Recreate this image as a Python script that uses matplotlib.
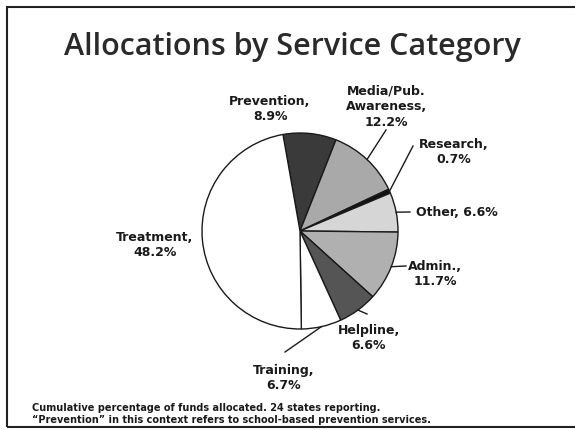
import numpy as np
import matplotlib
matplotlib.use("Agg")
import matplotlib.pyplot as plt
from matplotlib.patches import Rectangle

W, H = 575, 430

categories = ["Prevention", "Media/Pub.\nAwareness", "Research", "Other", "Admin.",
              "Helpline", "Training", "Treatment"]
values = [8.9, 12.2, 0.7, 6.6, 11.7, 6.6, 6.7, 48.2]
colors = ["#3a3a3a", "#a9a9a9", "#111111", "#d6d6d6", "#b0b0b0", "#555555",
          "#ffffff", "#ffffff"]

# label text, label centre (px), leader end (px) or None
label_text = ["Prevention,\n8.9%", "Media/Pub.\nAwareness,\n12.2%", "Research,\n0.7%",
              "Other, 6.6%", "Admin.,\n11.7%", "Helpline,\n6.6%", "Training,\n6.7%",
              "Treatment,\n48.2%"]
label_pos = [(270, 109), (386, 107), (454, 152), (457, 212), (435, 274),
             (369, 338), (284, 378), (155, 245)]
leader_end = [None, (386, 130), (413, 146), (410, 212), (406, 266),
              (367, 314), (285, 352), None]


def fx(x):
    return x / W


def fy(y):
    return 1 - y / H


fig = plt.figure(figsize=(W / 100, H / 100), dpi=100)
fig.patch.set_facecolor("white")

cx, cy, r = 300, 231, 98
ax = fig.add_axes([fx(cx - r), fy(cy + r), 2 * r / W, 2 * r / H])
wedges, _ = ax.pie(values, colors=colors, startangle=100, counterclock=False,
                   wedgeprops=dict(edgecolor="#1a1a1a", linewidth=1.0))
ax.set_xlim(-1, 1)
ax.set_ylim(-1, 1)
ax.set_aspect("equal")
ax.axis("off")

for w, txt, pos, le in zip(wedges, label_text, label_pos, leader_end):
    fig.text(fx(pos[0]), fy(pos[1]), txt, ha="center", va="center",
             fontsize=9, fontweight="bold", color="#1a1a1a", linespacing=1.25)
    if le is not None:
        ang = np.deg2rad((w.theta1 + w.theta2) / 2)
        px = cx + r * np.cos(ang)
        py = cy - r * np.sin(ang)
        fig.add_artist(plt.Line2D([fx(px), fx(le[0])], [fy(py), fy(le[1])],
                                  color="#1a1a1a", linewidth=1.0))

fig.text(fx(292), fy(55), "Allocations by Service Category", ha="center", va="baseline",
         fontsize=22, family="Open Sans", fontweight="semibold", color="#2a2a2a")

fig.text(fx(32), fy(408), "Cumulative percentage of funds allocated. 24 states reporting.",
         ha="left", va="center", fontsize=7, fontweight="bold", color="#1a1a1a")
fig.text(fx(32), fy(420), "\u201cPrevention\u201d in this context refers to school-based prevention services.",
         ha="left", va="center", fontsize=7, fontweight="bold", color="#1a1a1a")

fig.add_artist(Rectangle((fx(7), fy(427)), fx(575), fy(7) - fy(427), fill=False,
                         edgecolor="#222222", linewidth=1.5, transform=fig.transFigure))

fig.savefig("out.png", dpi=100)
